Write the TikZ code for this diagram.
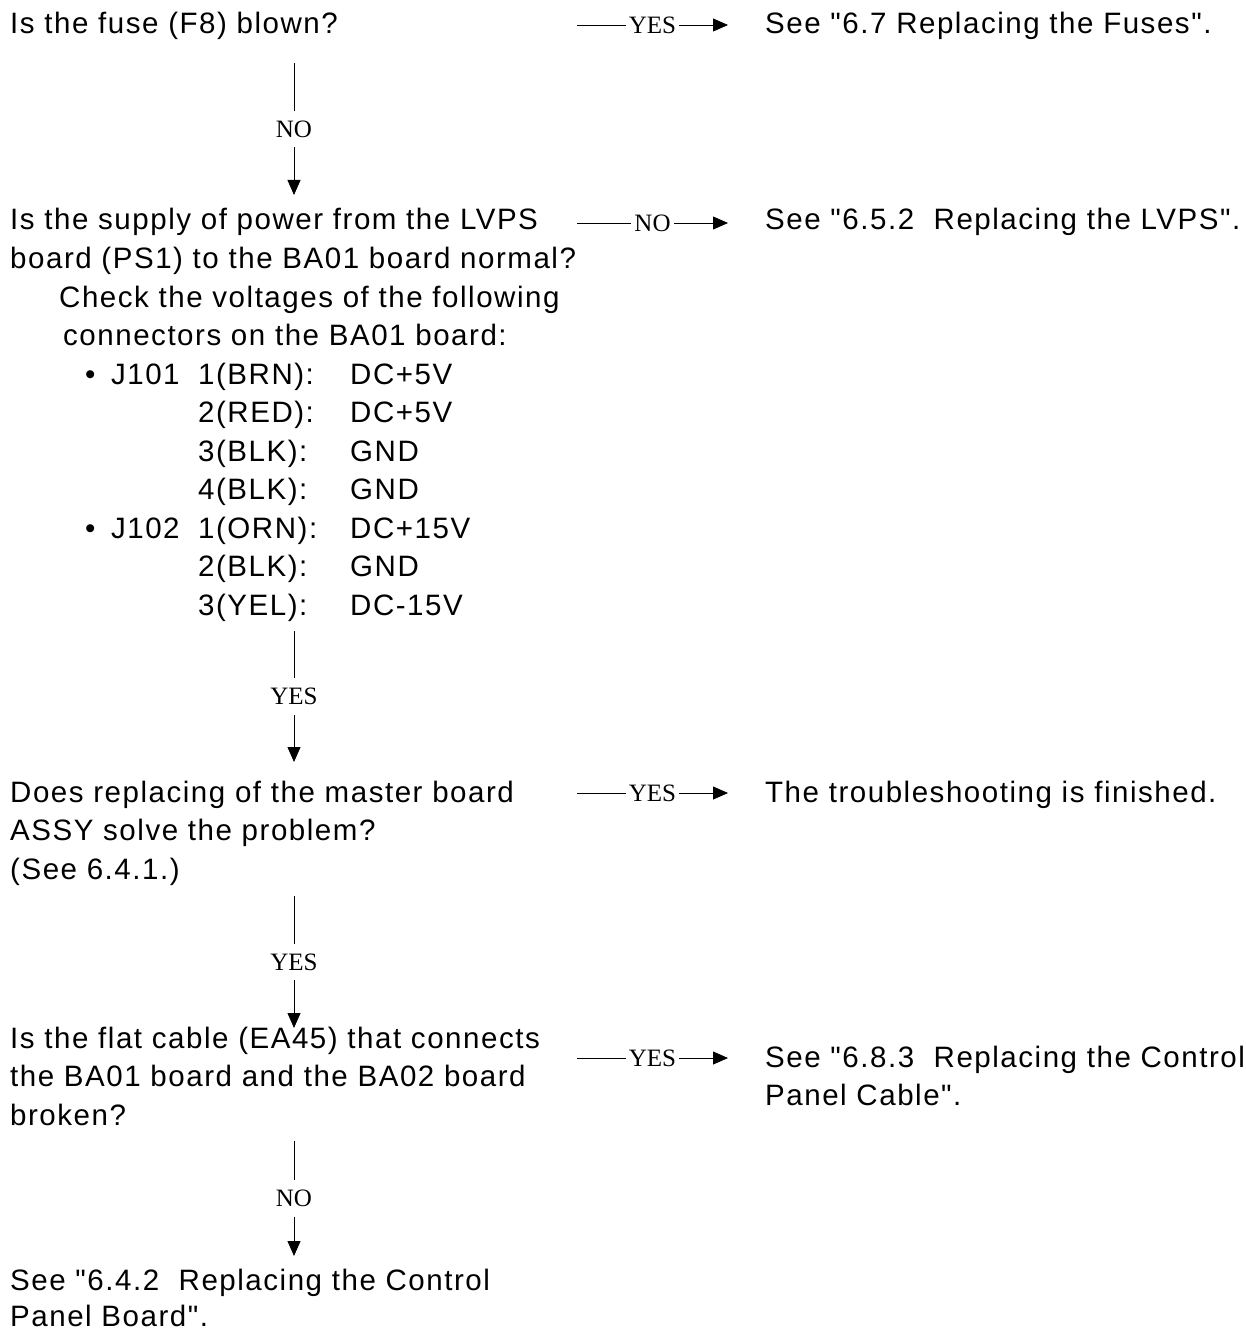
\documentclass[tikz,border=0pt]{standalone}
\usepackage{fontspec}
\setmainfont{Liberation Sans}[LetterSpace=5.2, Ligatures=TeXOff]
\newfontfamily\labelfont{Liberation Serif}
\usetikzlibrary{arrows.meta}
\begin{document}
\begin{tikzpicture}[x=1pt,y=-1pt,
  txt/.style={anchor=base west, inner sep=0pt, font=\fontsize{29.5}{38.5}\selectfont},
  lab/.style={fill=white, inner xsep=3pt, inner ysep=10pt, font=\labelfont\fontsize{25}{25}\selectfont},
  flow/.style={line width=0.8pt, draw=black, -{Triangle[length=15pt,width=13pt]}}]
\useasboundingbox (0,0) rectangle (1245,1332);

% ---- left column: questions ----
\node[txt] (q1)  at (10,34)    {Is the fuse (F8) blown?};

\node[txt] (q2a) at (10,230)   {Is the supply of power from the LVPS};
\node[txt] (q2b) at (10,268.5) {board (PS1) to the BA01 board normal?};
\node[txt] (q2c) at (59,307)   {Check the voltages of the following};
\node[txt] (q2d) at (63,345.5) {connectors on the BA01 board:};

% connector table
\node[txt] (b1)  at (85,384)   {•};
\node[txt] (j1)  at (111,384)  {J\kern1.5pt1\kern1.5pt0\kern1.5pt1};
\node[txt] (p11) at (198,384)  {1(BRN):};
\node[txt] (v11) at (350,384)  {DC+5V};
\node[txt] (p12) at (198,422.5){2(RED):};
\node[txt] (v12) at (350,422.5){DC+5V};
\node[txt] (p13) at (198,461)  {3(BLK):};
\node[txt] (v13) at (350,461)  {GND};
\node[txt] (p14) at (198,499.5){4(BLK):};
\node[txt] (v14) at (350,499.5){GND};
\node[txt] (b2)  at (85,538)   {•};
\node[txt] (j2)  at (111,538)  {J\kern1.5pt1\kern1.5pt0\kern1.5pt2};
\node[txt] (p21) at (198,538)  {1(ORN):};
\node[txt] (v21) at (350,538)  {DC+15V};
\node[txt] (p22) at (198,576.5){2(BLK):};
\node[txt] (v22) at (350,576.5){GND};
\node[txt] (p23) at (198,615)  {3(YEL):};
\node[txt] (v23) at (350,615)  {DC-15V};

\node[txt] (q3a) at (10,802)   {Does replacing of the master board};
\node[txt] (q3b) at (10,840.5) {ASSY solve the problem?};
\node[txt] (q3c) at (10,879)   {(See 6.4.1.)};

\node[txt] (q4a) at (10,1048)  {Is the flat cable (EA45) that connects};
\node[txt] (q4b) at (10,1086.5){the BA01 board and the BA02 board};
\node[txt] (q4c) at (10,1125)  {broken?};

\node[txt] (q5a) at (10,1290)  {See "6.4.2~ Replacing the Control};
\node[txt] (q5b) at (10,1326)  {Panel Board".};

% ---- right column: actions ----
\node[txt] (r1)  at (765,34)    {See "6.7 Replacing the Fuses".};
\node[txt] (r2)  at (765,230)   {See "6.5.2~ Replacing the LVPS".};
\node[txt] (r3)  at (765,802)   {The troubleshooting is finished.};
\node[txt] (r4a) at (765,1067)  {See "6.8.3~ Replacing the Control};
\node[txt] (r4b) at (765,1105.5){Panel Cable".};

% ---- connector end points ----
\coordinate (d1s) at (294,63);   \coordinate (d1e) at (294,195);
\coordinate (d2s) at (294,631);  \coordinate (d2e) at (294,762);
\coordinate (d3s) at (294,896);  \coordinate (d3e) at (294,1028);
\coordinate (d4s) at (294,1141); \coordinate (d4e) at (294,1256);

\coordinate (h1s) at (577,25);   \coordinate (h1e) at (728,25);
\coordinate (h2s) at (577,223);  \coordinate (h2e) at (728,223);
\coordinate (h3s) at (577,793);  \coordinate (h3e) at (728,793);
\coordinate (h4s) at (577,1058); \coordinate (h4e) at (728,1058);

% ---- vertical branches ----
\draw[flow] (d1s) -- node[lab] {NO}  (d1e);
\draw[flow] (d2s) -- node[lab] {YES} (d2e);
\draw[flow] (d3s) -- node[lab] {YES} (d3e);
\draw[flow] (d4s) -- node[lab] {NO}  (d4e);

% ---- horizontal branches ----
\draw[flow] (h1s) -- node[lab] {YES} (h1e);
\draw[flow] (h2s) -- node[lab] {NO}  (h2e);
\draw[flow] (h3s) -- node[lab] {YES} (h3e);
\draw[flow] (h4s) -- node[lab] {YES} (h4e);
\end{tikzpicture}
\end{document}
